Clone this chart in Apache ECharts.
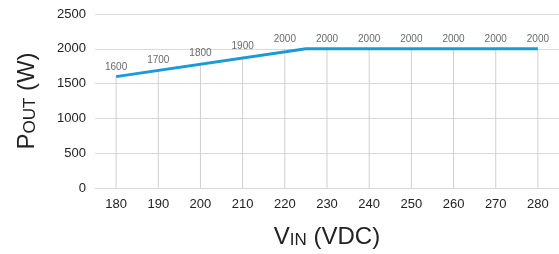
<!DOCTYPE html>
<html>
<head>
<meta charset="utf-8">
<title>Pout vs Vin</title>
<style>
  html, body { margin: 0; padding: 0; background: #fff; }
  #chart { width: 559px; height: 254px; }
</style>
</head>
<body>
<div id="chart"></div>
<script src="https://cdn.jsdelivr.net/npm/echarts@6/dist/echarts.min.js"></script>
<script>
// input voltage categories (VDC)
var vinLabels = ['180', '190', '200', '210', '220', '230', '240', '250', '260', '270', '280'];
// value labels printed above the curve
var labelValues = [1600, 1700, 1800, 1900, 2000, 2000, 2000, 2000, 2000, 2000, 2000];
// break points of the derating curve [Vin, Pout]
var curveVin = [180, 225, 280];
var curvePout = [1600, 2000, 2000];
var yTicks = [0, 500, 1000, 1500, 2000, 2500];

var font = 'Liberation Sans, Arial, sans-serif';
var chart = echarts.init(document.getElementById('chart'));

var curve = [];
for (var i = 0; i < curveVin.length; i++) {
    curve.push([curveVin[i], curvePout[i]]);
}

// small caps style axis titles
var titleRich = {
    a: { fontSize: 24, fontFamily: font, color: '#222', verticalAlign: 'bottom', lineHeight: 26 },
    b: { fontSize: 17, fontFamily: font, color: '#222', verticalAlign: 'bottom', lineHeight: 26 }
};

var option = {
    animation: false,
    grid: { left: 95, top: 14, width: 466, height: 174 },
    xAxis: [
        {
            type: 'category',
            data: vinLabels,
            boundaryGap: true,
            axisLine: { lineStyle: { color: '#d9d9d9', width: 1 } },
            axisTick: { show: false },
            axisLabel: { color: '#222', fontSize: 13, fontFamily: font, margin: 10 },
            splitLine: { show: false },
            name: '{a|V}{b|IN}{a| (VDC)}',
            nameLocation: 'middle',
            nameGap: 35,
            nameTextStyle: { rich: titleRich }
        },
        {
            type: 'value',
            min: 175,
            max: 285,
            show: false
        }
    ],
    yAxis: {
        type: 'value',
        min: yTicks[0],
        max: yTicks[yTicks.length - 1],
        interval: 500,
        axisLine: { show: false },
        axisTick: { show: false },
        axisLabel: {
            color: '#222', fontSize: 13, fontFamily: font, margin: 9,
            formatter: function (v) { return String(v); }
        },
        splitLine: { lineStyle: { color: '#d9d9d9', width: 1 } },
        name: '{a|P}{b|OUT}{a| (W)}',
        nameLocation: 'middle',
        nameRotate: 90,
        nameGap: 56,
        nameTextStyle: { rich: titleRich }
    },
    series: [
        {
            // drop lines from the curve to the axis
            type: 'bar',
            xAxisIndex: 0,
            data: labelValues,
            barWidth: 1,
            itemStyle: { color: '#d0d0d0' },
            silent: true,
            z: 1
        },
        {
            // labels above the curve
            type: 'scatter',
            xAxisIndex: 0,
            data: labelValues,
            symbol: 'circle',
            symbolSize: 1,
            itemStyle: { color: 'rgba(0,0,0,0)' },
            label: {
                show: true,
                position: 'top',
                distance: 4,
                fontSize: 10,
                fontFamily: font,
                color: '#444'
            },
            silent: true,
            z: 3
        },
        {
            type: 'line',
            xAxisIndex: 1,
            data: curve,
            symbol: 'none',
            lineStyle: { color: '#1b9ad8', width: 3 },
            z: 4
        }
    ]
};
chart.setOption(option);
</script>
</body>
</html>
